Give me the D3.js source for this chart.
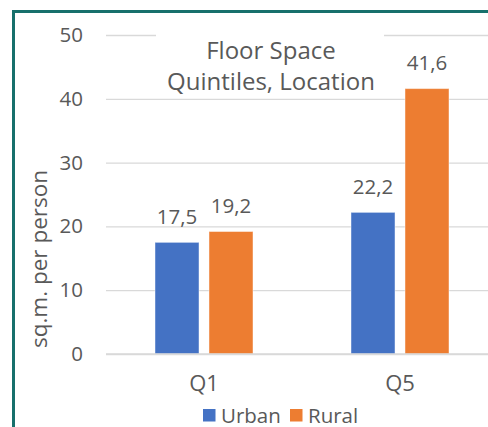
<!DOCTYPE html>
<html>
<head>
<meta charset="utf-8">
<script src="https://cdn.jsdelivr.net/npm/d3@7"></script>
<style>
  html, body { margin: 0; padding: 0; background: #fff; }
  svg { display: block; }
  text { font-family: "Open Sans", "Noto Sans", sans-serif; fill: #595959; }
</style>
</head>
<body>
<svg id="chart" width="488" height="427"></svg>
<script>
// Floor space per person by quintile and location
const categories = ["Q1", "Q5"];
const series = ["Urban", "Rural"];
const urbanValues = [17.5, 22.2];
const ruralValues = [19.2, 41.6];
const yTicks = [0, 10, 20, 30, 40, 50];
const titleLines = ["Floor Space", "Quintiles, Location"];
const yAxisTitle = "sq.m. per person";

const colors = { Urban: "#4472C4", Rural: "#ED7D31" };
const valuesBySeries = { Urban: urbanValues, Rural: ruralValues };

const svg = d3.select("#chart");

// frame
svg.append("rect")
  .attr("x", 13.5).attr("y", 11.5)
  .attr("width", 600).attr("height", 600)
  .attr("fill", "none")
  .attr("stroke", "#17706C")
  .attr("stroke-width", 3);

const plotLeft = 106, plotRight = 498;
const y = d3.scaleLinear().domain([0, 50]).range([354, 35]);
const x0 = d3.scaleBand().domain(categories).range([plotLeft, plotRight]);
const bw = x0.bandwidth();
const x1 = d3.scaleBand().domain(series).range([bw * 0.25, bw * 0.75]).paddingInner(0.185);

// gridlines and value ticks
const yAxis = d3.axisLeft(y).tickValues(yTicks).tickSize(-(plotRight - plotLeft)).tickPadding(23)
  .tickFormat(d3.format("d"));
const gy = svg.append("g").attr("transform", `translate(${plotLeft},0)`).call(yAxis);
gy.select(".domain").remove();
gy.selectAll(".tick line").attr("stroke", "#D9D9D9").attr("stroke-width", 1.3);
gy.selectAll(".tick text").attr("font-size", 20.5).attr("fill", "#595959");

// bars
const groups = svg.append("g").selectAll("g")
  .data(categories).join("g")
  .attr("transform", d => `translate(${x0(d)},0)`);

groups.selectAll("rect")
  .data((c, i) => series.map(s => ({ s, v: valuesBySeries[s][i] })))
  .join("rect")
  .attr("x", d => x1(d.s))
  .attr("width", x1.bandwidth())
  .attr("y", d => y(d.v))
  .attr("height", d => y(0) - y(d.v))
  .attr("fill", d => colors[d.s])
  .attr("stroke", "#fff")
  .attr("stroke-opacity", 0.45)
  .attr("stroke-width", 1);

// value labels
groups.selectAll("text.val")
  .data((c, i) => series.map(s => ({ s, v: valuesBySeries[s][i] })))
  .join("text")
  .attr("class", "val")
  .attr("x", d => x1(d.s) + x1.bandwidth() / 2)
  .attr("y", d => y(d.v) - 18.5)
  .attr("text-anchor", "middle")
  .attr("font-size", 20.5)
  .text(d => d3.format(".1f")(d.v).replace(".", ","));

// zero baseline
svg.append("line")
  .attr("x1", plotLeft).attr("x2", plotRight)
  .attr("y1", y(0)).attr("y2", y(0))
  .attr("stroke", "#D9D9D9").attr("stroke-width", 1.5);

// category axis labels
const xAxis = d3.axisBottom(x0).tickSize(0).tickPadding(21);
const gx = svg.append("g").attr("transform", `translate(0,${y(0)})`).call(xAxis);
gx.select(".domain").remove();
gx.selectAll(".tick text").attr("font-size", 22).attr("fill", "#595959");

// title with white backing
const title = svg.append("g");
title.append("rect")
  .attr("x", 156).attr("y", 28).attr("width", 228).attr("height", 68)
  .attr("fill", "#fff");
title.selectAll("text")
  .data(titleLines).join("text")
  .attr("x", 271)
  .attr("y", (d, i) => 59 + i * 31)
  .attr("text-anchor", "middle")
  .attr("font-size", 24)
  .text(d => d);

// y axis title
svg.append("text")
  .attr("transform", "translate(47,259) rotate(-90)")
  .attr("text-anchor", "middle")
  .attr("font-size", 22.5)
  .text(yAxisTitle);

// legend
const legendItems = [
  { s: "Urban", x: 203 },
  { s: "Rural", x: 290 }
];
const lg = svg.append("g").selectAll("g").data(legendItems).join("g")
  .attr("transform", d => `translate(${d.x},409)`);
lg.append("rect").attr("width", 12.5).attr("height", 12.5).attr("fill", d => colors[d.s]);
lg.append("text").attr("x", 18).attr("y", 13.5).attr("font-size", 20.5).text(d => d.s);
</script>
</body>
</html>
